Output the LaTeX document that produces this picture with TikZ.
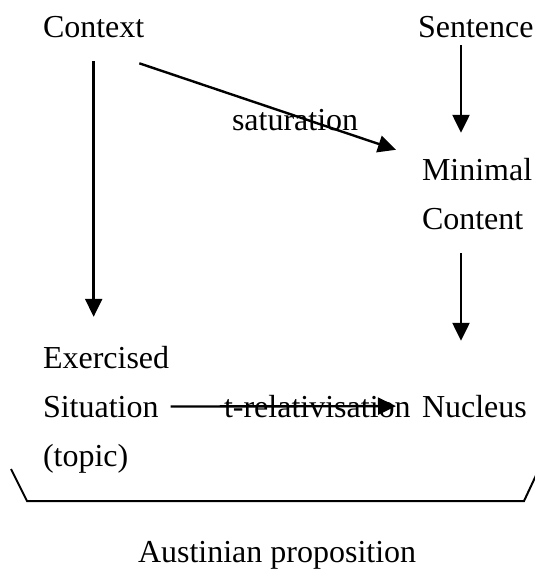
\documentclass[tikz,border=0pt]{standalone}
\usepackage{fontspec}
\setmainfont{Liberation Serif}
\usetikzlibrary{arrows.meta}
\tikzstyle{word} = [inner sep=0pt,outer sep=0pt,anchor=base west,font=\fontsize{32}{39}\selectfont]
\tikzstyle{link} = [->,line width=2.4pt]

\begin{document}
\begin{tikzpicture}[x=1pt,y=-1pt,>={Triangle[length=18pt,width=17pt]}]
    \useasboundingbox (0,0) rectangle (535,571);
    \clip (0,0) rectangle (535,571);
    % We start by placing the words
    \node [word] (ctx) at (43,37) {Context};
    \node [word] (sent) at (418,37) {Sentence};
    \node [word] (mini) at (422,180) {Minimal};
    \node [word] (cont) at (422,229) {Content};
    \node [word] (exer) at (43,368) {Exercised};
    \node [word] (sit) at (43,417) {Situation};
    \node [word] (topic) at (43,466) {(topic)};
    \node [word] (nuc) at (422,417) {Nucleus};
    \node [word] (satu) at (232,130) {saturation};
    \node [word] (trel) at (224,417) {t-relativisation};
    \node [word] (austin) at (138,562) {Austinian proposition};

    % Once the words are placed, connecting them is easy.
    \draw [link,shorten <=24pt,shorten >=29pt] (ctx.south) -- (ctx.south |- exer.north);
    \draw [link,shorten <=8pt,shorten >=25pt] ([xshift=39pt]mini.north west |- sent.south) -- ([xshift=39pt]mini.north west);
    \draw [link] ([shift={(-5,26)}]ctx.south east) -- ([shift={(-26,-8)}]mini.north west);
    \draw [link,shorten <=24pt,shorten >=54pt] ([xshift=39pt]cont.south west) -- ([xshift=39pt]nuc.north west);
    \draw [link,shorten <=12pt,shorten >=26pt] (sit.east) -- (nuc.west);

    % the brace under the whole proposition
    \draw [line width=2pt] (11,469) -- (27,501) -- (524,501) -- (539,469);
\end{tikzpicture}
\end{document}
